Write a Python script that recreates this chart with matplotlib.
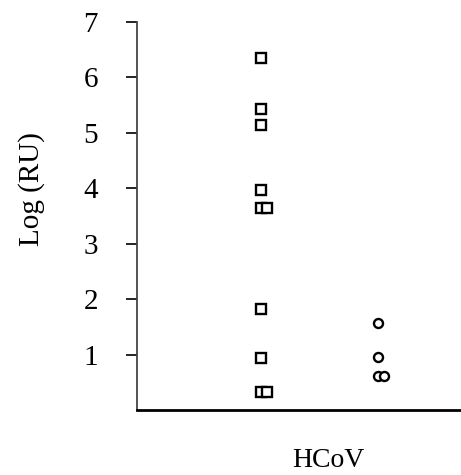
import matplotlib
matplotlib.use("Agg")
import matplotlib.pyplot as plt
import numpy as np

# ── data (log RU values) ─────────────────────────────────────────────────────
GROUP_X = [1, 2]
SQUARE_VALUES = [6.35, 5.43, 5.14, 3.96, 3.64, 3.64, 1.83, 0.94, 0.32, 0.32]
CIRCLE_VALUES = [1.56, 0.95, 0.62, 0.62]
Y_TICKS = [1, 2, 3, 4, 5, 6, 7]
Y_LABEL = "Log (RU)"
X_LABEL = "HCoV"

DUP_SHIFT = 0.05   # sideways shift for repeated values


def spread(values, x0):
    """Put repeated values side by side instead of on top of each other."""
    seen = {}
    xs = []
    for v in values:
        n = seen.get(v, 0)
        xs.append(x0 + n * DUP_SHIFT)
        seen[v] = n + 1
    return np.array(xs), np.array(values)


plt.rcParams["font.family"] = ["Liberation Serif", "DejaVu Serif"]

fig = plt.figure(figsize=(4.61, 4.75), dpi=100)
ax = fig.add_axes([0.2972, 0.1368, 0.7028, 0.8175])

sx, sy = spread(SQUARE_VALUES, GROUP_X[0])
cx, cy = spread(CIRCLE_VALUES, GROUP_X[1])

ax.plot(sx, sy, linestyle="none", marker="s", markersize=6.8,
        markerfacecolor="white", markeredgecolor="black", markeredgewidth=1.7)
ax.plot(cx, cy, linestyle="none", marker="o", markersize=6.5,
        markerfacecolor="white", markeredgecolor="black", markeredgewidth=1.7)

ax.set_xlim(-0.057, 2.712)
ax.set_ylim(0, 7)
ax.set_xticks([])
ax.set_yticks(Y_TICKS)
ax.tick_params(axis="y", direction="out", length=8, width=1.2,
               pad=20, labelsize=21, colors="black")

ax.spines["top"].set_visible(False)
ax.spines["right"].set_visible(False)
ax.spines["left"].set_color("#444444")
ax.spines["left"].set_linewidth(1.3)
ax.spines["bottom"].set_color("black")
ax.spines["bottom"].set_linewidth(2.0)

ax.set_ylabel(Y_LABEL, fontsize=21)
ax.yaxis.set_label_coords(-0.284, 0.568)
ax.set_xlabel(X_LABEL, fontsize=20)
ax.xaxis.set_label_coords(0.590, -0.098)

fig.savefig("out.png", dpi=100)
plt.close(fig)
